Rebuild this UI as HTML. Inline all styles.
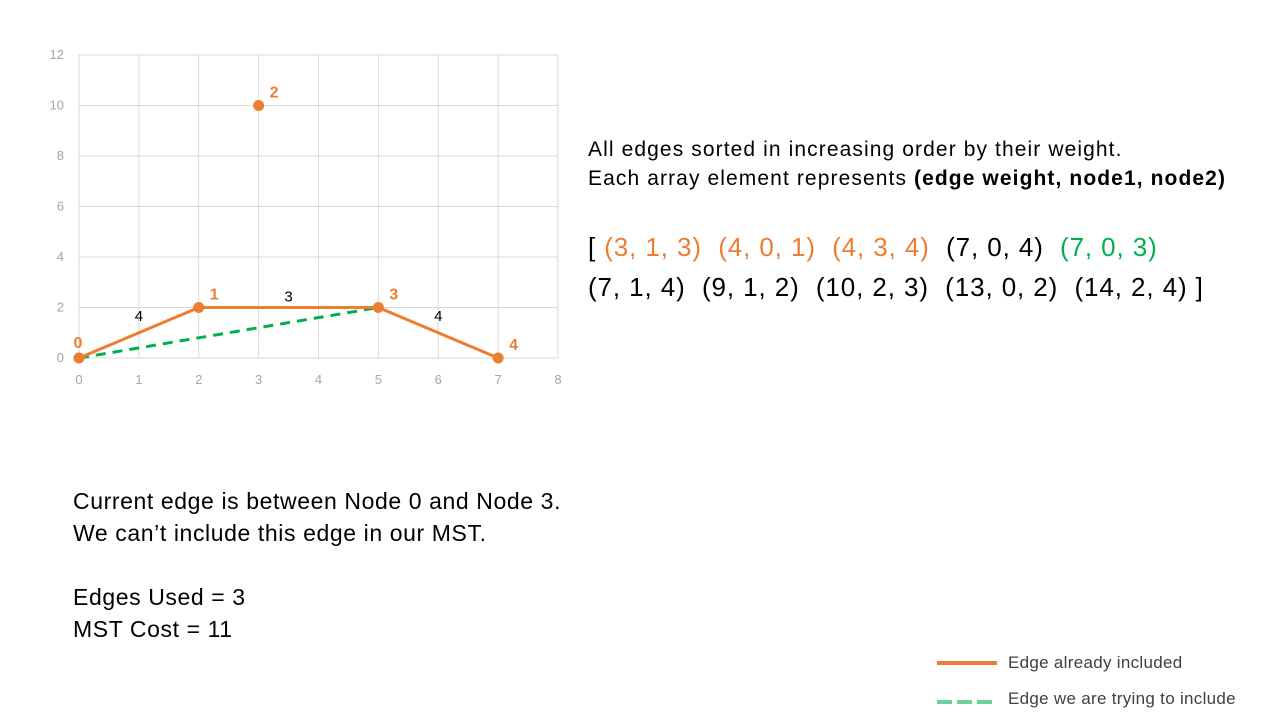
<!DOCTYPE html>
<html><head><meta charset="utf-8"><style>
body{margin:0;width:1280px;height:720px;background:#fff;font-family:"Liberation Sans",sans-serif;position:relative;overflow:hidden}
.t{position:absolute;white-space:nowrap;color:#000}
.o{color:#ed7d31}.g{color:#00b050}
</style></head><body>
<svg id="chart" width="600" height="400" style="position:absolute;left:0;top:0" font-family="Liberation Sans, sans-serif"></svg>
<div class="t" style="left:588px;top:135px;font-size:21px;letter-spacing:1.1px;line-height:29px">All edges sorted in increasing order by their weight.<br>Each array element represents <b>(edge weight, node1, node2)</b></div>
<div class="t" style="left:588px;top:227px;font-size:26px;letter-spacing:0.9px;line-height:40px">[ <span class="o">(3, 1, 3)&nbsp; (4, 0, 1)&nbsp; (4, 3, 4)</span>&nbsp; (7, 0, 4)&nbsp; <span class="g">(7, 0, 3)</span><br>(7, 1, 4)&nbsp; (9, 1, 2)&nbsp; (10, 2, 3)&nbsp; (13, 0, 2)&nbsp; (14, 2, 4) ]</div>
<div class="t" style="left:73px;top:485px;font-size:23px;letter-spacing:0.6px;line-height:32px">Current edge is between Node 0 and Node 3.<br>We can’t include this edge in our MST.<br><br>Edges Used = 3<br>MST Cost = 11</div>
<div>
<div style="position:absolute;left:937px;top:661px;width:60px;height:4px;background:#ed7d31"></div>
<div class="t" style="left:1008px;top:653px;font-size:17px;letter-spacing:0.3px;color:#404040">Edge already included</div>
<div style="position:absolute;left:937px;top:700px;width:60px;height:4px;background:repeating-linear-gradient(90deg,#70d09a 0 15px,transparent 15px 20px)"></div>
<div class="t" style="left:1008px;top:689px;font-size:17px;letter-spacing:0.3px;color:#404040">Edge we are trying to include</div>
</div>
<script>
const xTicks=[0,1,2,3,4,5,6,7,8];
const yTicks=[0,2,4,6,8,10,12];
const nodeIds=[0,1,2,3,4];
const nodeX=[0,2,3,5,7];
const nodeY=[0,2,10,2,0];
const edgeFrom=[0,1,3];
const edgeTo=[1,3,4];
const edgeWeight=[4,3,4];
const tryFrom=[0];
const tryTo=[3];
const NS="http://www.w3.org/2000/svg";
const svg=document.getElementById('chart');
const X=v=>79+v*(479/8), Y=v=>358-v*(303/12);
function mk(t,a,p){const e=document.createElementNS(NS,t);for(const k in a)e.setAttribute(k,a[k]);(p||svg).appendChild(e);return e;}
xTicks.forEach(v=>{
 const l=mk('line',{x1:X(v),x2:X(v),y1:Y(12),y2:Y(0),stroke:'#d9d9d9'});
 
 
 const t=mk('text',{x:X(v),y:384,'text-anchor':'middle','font-size':13,fill:'#a6a6a6'});t.textContent=v;
 
 
});
yTicks.forEach(v=>{
 const l=mk('line',{x1:X(0),x2:X(8),y1:Y(v),y2:Y(v),stroke:'#d9d9d9'});
 
 
 const t=mk('text',{x:64,y:Y(v)+4,'text-anchor':'end','font-size':13,fill:'#a6a6a6'});t.textContent=v;
 
 
});
tryFrom.forEach((f,i)=>{
 const a=f,b=tryTo[i];
 const l=mk('line',{x1:X(nodeX[a]),y1:Y(nodeY[a]),x2:X(nodeX[b]),y2:Y(nodeY[b]),stroke:'#00b050','stroke-width':3,'stroke-dasharray':'10 7'});
 
 
});
edgeFrom.forEach((a,i)=>{
 const b=edgeTo[i];
 const l=mk('line',{x1:X(nodeX[a]),y1:Y(nodeY[a]),x2:X(nodeX[b]),y2:Y(nodeY[b]),stroke:'#ed7d31','stroke-width':3});
 
 
 const mx=(X(nodeX[a])+X(nodeX[b]))/2, my=(Y(nodeY[a])+Y(nodeY[b]))/2;
 const t=mk('text',{x:mx,y:my-(nodeY[a]===nodeY[b]?6:12),'text-anchor':'middle','font-size':15,fill:'#000'});t.textContent=edgeWeight[i];
 
 
});
nodeIds.forEach((id,i)=>{
 const c=mk('circle',{cx:X(nodeX[i]),cy:Y(nodeY[i]),r:5.5,fill:'#ed7d31'});
 
 
 const dx=id===0?-1:11, dy=id===0?-10:-8;
 const t=mk('text',{x:X(nodeX[i])+dx,y:Y(nodeY[i])+dy,'text-anchor':id===0?'middle':'start','font-size':16,'font-weight':'bold',fill:'#ed7d31'});t.textContent=id;
 
 
});
</script>
</body></html>
